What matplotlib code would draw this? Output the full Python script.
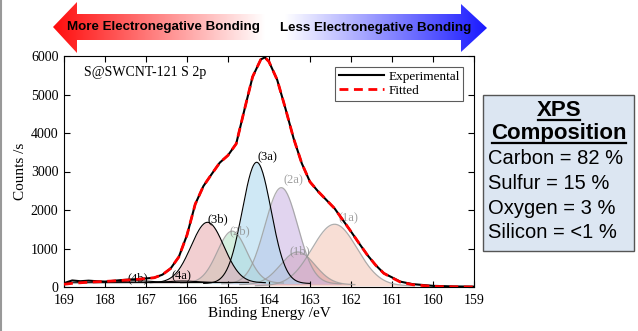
import numpy as np
import matplotlib.pyplot as plt
from matplotlib.patches import Polygon, Rectangle
from matplotlib.lines import Line2D

plt.rcParams["font.family"] = ["Liberation Serif", "DejaVu Serif"]

# S 2p spectrum
energy = [169.0, 168.8, 168.6, 168.4, 168.2, 168.0, 167.6, 167.2, 166.8, 166.6,
          166.4, 166.2, 166.0, 165.8, 165.6, 165.4, 165.2, 165.0, 164.8, 164.6,
          164.4, 164.2, 164.1, 164.0, 163.8, 163.6, 163.4, 163.2, 163.0, 162.8,
          162.6, 162.4, 162.2, 162.0, 161.8, 161.6, 161.4, 161.2, 161.0, 160.8,
          160.5, 160.0, 159.5, 159.0]
experimental = [100, 170, 150, 165, 150, 140, 180, 205, 240, 320,
                480, 780, 1350, 2150, 2620, 2930, 3230, 3420, 3720, 4600,
                5460, 5910, 5965, 5850, 5380, 4640, 3860, 3210, 2730, 2480,
                2260, 2040, 1740, 1440, 1130, 830, 570, 356, 250, 140,
                75, 30, 15, 10]
fitted = [70, 95, 110, 125, 135, 145, 170, 200, 240, 320,
          480, 780, 1350, 2150, 2620, 2930, 3230, 3420, 3720, 4600,
          5460, 5910, 5965, 5850, 5380, 4640, 3860, 3210, 2730, 2480,
          2260, 2040, 1740, 1440, 1130, 830, 570, 356, 240, 130,
          60, 15, 5, 0]

# fitted components: centre (eV), height, sigma, baseline level
peak_names = ["(1a)", "(1b)", "(2a)", "(2b)", "(3a)", "(3b)", "(4a)", "(4b)"]
peak_centres = [162.4, 163.3, 163.7, 164.9, 164.3, 165.5, 166.1, 167.2]
peak_heights = [1600, 850, 2500, 1350, 3150, 1570, 40, 40]
peak_sigmas = [0.55, 0.42, 0.40, 0.36, 0.35, 0.40, 0.35, 0.35]
peak_bases = [30, 60, 80, 100, 90, 110, 115, 120]
peak_colors = ["#f3c4b4", "#d99a9c", "#c9b2e2", "#b2e2c4", "#a9d6ee", "#e8a8ac",
               "#cccccc", "#cccccc"]
label_e = [162.07, 163.24, 163.41, 164.71, 164.03, 165.26, 166.13, 167.21]
label_c = [1784, 917, 2762, 1437, 3368, 1770, 267, 226]
label_faded = [True, True, True, True, False, False, False, False]

composition_names = ["Carbon", "Sulfur", "Oxygen", "Silicon"]
composition_values = ["82", "15", "3", "<1"]

fig = plt.figure(figsize=(6.38, 3.31), dpi=100)
ax = fig.add_axes([64 / 638, 1 - 287 / 331, 410 / 638, 231 / 331])

grid = np.linspace(169, 159, 500)
for c, h, s, b, col, faded in zip(peak_centres, peak_heights, peak_sigmas,
                                  peak_bases, peak_colors, label_faded):
    y = b + h * np.exp(-(grid - c) ** 2 / (2 * s ** 2))
    mask = y - b > 3
    ax.fill_between(grid[mask], b, y[mask], color=col, alpha=0.55, lw=0, zorder=1)
    if faded:
        ax.plot(grid[mask], y[mask], color="#9a9a9a", lw=0.9, alpha=0.8, zorder=2)
    else:
        ax.plot(grid[mask], y[mask], color="black", lw=0.8, zorder=3)
ax.plot([169, 164.5], [110, 120], color="black", lw=0.8, zorder=3)

for name, e, c, faded in zip(peak_names, label_e, label_c, label_faded):
    ax.text(e, c, name, ha="center", va="center", fontsize=9,
            color="#8a8a8a" if faded else "black", alpha=0.8 if faded else 1,
            zorder=4)

ax.plot(energy, experimental, color="black", lw=1.5, label="Experimental", zorder=5)
ax.plot(energy, fitted, color="red", lw=2, dashes=(3.2, 2), label="Fitted", zorder=6)

ax.set_xlim(169, 159)
ax.set_ylim(0, 6000)
ax.set_xticks(range(169, 158, -1))
ax.set_yticks(range(0, 6001, 1000))
ax.tick_params(direction="in", top=True, right=True, length=4, labelsize=10, pad=4)
ax.tick_params(axis="x", pad=5)
ax.set_xlabel("Binding Energy /eV", fontsize=11, labelpad=0)
ax.set_ylabel("Counts /s", fontsize=11, labelpad=3)
ax.text(0.049, 0.93, "S@SWCNT-121 S 2p", transform=ax.transAxes, fontsize=10,
        va="center", ha="left")
leg = ax.legend(loc="upper right", fontsize=9.5, frameon=True, fancybox=False,
                handlelength=3.4, handletextpad=0.3, borderpad=0.3,
                labelspacing=0.15, borderaxespad=0.8)
leg.get_frame().set_edgecolor("#333333")
leg.get_frame().set_linewidth(0.8)

# overlay in pixel coordinates for the arrow and the composition box
ov = fig.add_axes([0, 0, 1, 1], zorder=10)
ov.axis("off")
ov.patch.set_alpha(0)

ov.plot([1, 1], [0, 331], color="#999999", lw=1.5)

arrow = Polygon([(53, 27), (77, 2), (77, 14), (461, 14), (461, 4), (487, 28),
                 (461, 52), (461, 40), (77, 40), (77, 53)], closed=True,
                facecolor="none", edgecolor="none")
ov.add_patch(arrow)
xs = np.linspace(53, 487, 400)
rgb = np.ones((1, len(xs), 3))
left = xs < 265
right = xs > 285
t_left = (265 - xs[left]) / (265 - 53)
rgb[0, left, 1] = 1 - t_left * 0.95
rgb[0, left, 2] = 1 - t_left * 0.95
t_right = (xs[right] - 285) / (487 - 285)
rgb[0, right, 0] = 1 - t_right * 0.9
rgb[0, right, 1] = 1 - t_right * 0.9
img = ov.imshow(rgb, extent=(53, 487, 53, 2), aspect="auto", interpolation="bilinear")
img.set_clip_path(arrow)
ov.set_xlim(0, 638)
ov.set_ylim(331, 0)

ov.text(163, 27, "More Electronegative Bonding", fontsize=9.6, fontweight="bold",
        family="Liberation Sans", ha="center", va="center")
ov.text(376, 28, "Less Electronegative Bonding", fontsize=9.6, fontweight="bold",
        family="Liberation Sans", ha="center", va="center")

ov.add_patch(Rectangle((483, 95), 151, 156, facecolor="#dce6f2", edgecolor="#555555",
                       lw=1))
titles = []
for txt, y in [("XPS", 110), ("Composition", 133)]:
    titles.append(ov.text(559, y, txt, fontsize=16, fontweight="bold",
                          family="Liberation Sans", ha="center", va="center"))
for i, (n, v) in enumerate(zip(composition_names, composition_values)):
    ov.text(488, 159 + i * 24.5, f"{n} = {v} %", fontsize=14.5,
            family="Liberation Sans", ha="left", va="center")

fig.canvas.draw()
renderer = fig.canvas.get_renderer()
inv = ov.transData.inverted()
for t in titles:
    bb = t.get_window_extent(renderer)
    (x0, y0), (x1, y1) = inv.transform([(bb.x0, bb.y0), (bb.x1, bb.y0)])
    ov.add_line(Line2D([x0 + 1, x1 - 1], [y0 - 1, y1 - 1], color="black", lw=1.6))

fig.savefig("out.png", dpi=100)
